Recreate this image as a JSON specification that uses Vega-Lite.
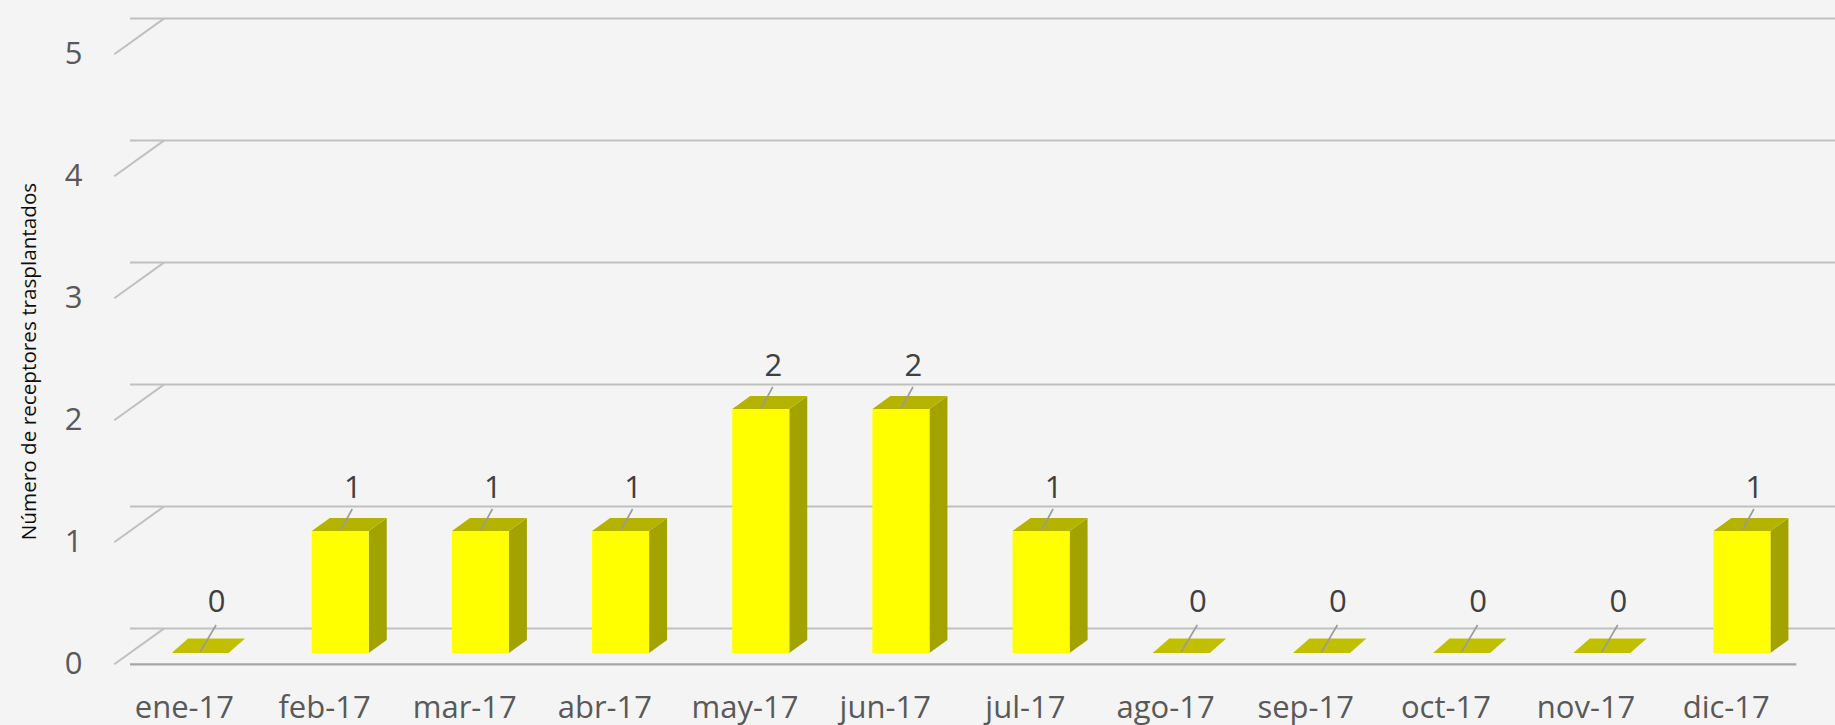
{
  "$schema": "https://vega.github.io/schema/vega-lite/v6.json",
  "autosize": "none",
  "width": 1682,
  "height": 610,
  "padding": {"left": 130, "top": 43, "right": 23, "bottom": 72},
  "background": "#f4f4f4",
  "config": {"view": {"stroke": null}, "font": "Open Sans",
             "axis": {"ticks": false, "tickSize": 0, "domain": false, "grid": false}},
  "datasets": {
    "bars": [
      {"mes": "ene-17", "v": 0},
      {"mes": "feb-17", "v": 1},
      {"mes": "mar-17", "v": 1},
      {"mes": "abr-17", "v": 1},
      {"mes": "may-17", "v": 2},
      {"mes": "jun-17", "v": 2},
      {"mes": "jul-17", "v": 1},
      {"mes": "ago-17", "v": 0},
      {"mes": "sep-17", "v": 0},
      {"mes": "oct-17", "v": 0},
      {"mes": "nov-17", "v": 0},
      {"mes": "dic-17", "v": 1}
    ],
    "ticks": [{"v": 0}, {"v": 1}, {"v": 2}, {"v": 3}, {"v": 4}, {"v": 5}]
  },
  "layer": [
    {
      "data": {"name": "bars"},
      "mark": {"type": "bar", "fill": "#ffff00", "opacity": 0},
      "encoding": {
        "x": {"field": "mes", "type": "nominal", "sort": null,
              "scale": {"domain": ["ene-17","feb-17","mar-17","abr-17","may-17","jun-17","jul-17","ago-17","sep-17","oct-17","nov-17","dic-17"],
                        "paddingInner": 0.593, "paddingOuter": 0.2965},
              "axis": {"title": null, "ticks": false, "tickSize": 0, "domain": false, "grid": false,
                       "labelAngle": 0, "labelFontSize": 31, "labelColor": "#595959", "labelFont": "Open Sans",
                       "labelOffset": -15.7, "labelPadding": 64, "labelBaseline": "alphabetic"}},
        "y": {"field": "v", "type": "quantitative",
              "scale": {"domain": [0, 5], "nice": false},
              "axis": {"title": "Número de receptores trasplantados", "values": [0, 1, 2, 3, 4, 5], "format": "d",
                       "ticks": false, "tickSize": 0, "domain": false, "grid": false,
                       "labelFontSize": 31, "labelColor": "#595959", "labelFont": "Open Sans",
                       "labelOffset": 11.3, "labelPadding": 48,
                       "titleFontSize": 20.7, "titleFont": "Open Sans", "titleColor": "#0d0d0d", "titleFontWeight": "normal",
                       "titleAngle": -90, "titleX": -95, "titleY": 318, "titleAlign": "center", "titleBaseline": "alphabetic"}}
      }
    },
    {
      "data": {"name": "ticks"},
      "mark": {"type": "rule", "stroke": "#c0c0c0", "strokeWidth": 2, "xOffset": 33.9, "yOffset": -24.4},
      "encoding": {"y": {"field": "v", "type": "quantitative"}}
    },
    {
      "data": {"name": "ticks"},
      "mark": {"type": "point", "shape": "M-85.8,11.3L-36.2,-24.4", "size": 4, "filled": false,
               "stroke": "#c0c0c0", "strokeWidth": 2, "opacity": 1},
      "encoding": {"x": {"datum": "ene-17", "type": "nominal"},
                   "y": {"field": "v", "type": "quantitative"}}
    },
    {
      "data": {"name": "ticks"},
      "transform": [{"filter": "datum.v == 0"}],
      "mark": {"type": "rule", "stroke": "#a6a6a6", "strokeWidth": 2.2, "xOffset": -15.7, "yOffset": 11.3},
      "encoding": {"y": {"field": "v", "type": "quantitative"}}
    },
    {
      "data": {"name": "bars"},
      "transform": [{"filter": "datum.v == 0"}],
      "mark": {"type": "point", "shape": "M-28.5,0L28.5,0L45,-14.4L-12,-14.4Z", "size": 4, "filled": true,
               "fill": "#c0c000", "strokeWidth": 0, "opacity": 1},
      "encoding": {"x": {"field": "mes", "type": "nominal", "sort": null},
                   "y": {"field": "v", "type": "quantitative"}}
    },
    {
      "data": {"name": "bars"},
      "transform": [{"filter": "datum.v > 0"}],
      "mark": {"type": "bar", "fill": "#a3a300", "width": 18, "xOffset": 37.5, "y2Offset": -13},
      "encoding": {"x": {"field": "mes", "type": "nominal", "sort": null},
                   "y": {"field": "v", "type": "quantitative"},
                   "y2": {"datum": 0}}
    },
    {
      "data": {"name": "bars"},
      "transform": [{"filter": "datum.v > 0"}],
      "mark": {"type": "point", "shape": "M28.5,-13L28.5,0L46.5,-13Z", "size": 4, "filled": true,
               "fill": "#a3a300", "strokeWidth": 0, "opacity": 1},
      "encoding": {"x": {"field": "mes", "type": "nominal", "sort": null},
                   "y": {"datum": 0, "type": "quantitative"}}
    },
    {
      "data": {"name": "bars"},
      "transform": [{"filter": "datum.v > 0"}],
      "mark": {"type": "point", "shape": "M28.5,0L46.5,-13L46.5,0Z", "size": 4, "filled": true,
               "fill": "#a3a300", "strokeWidth": 0, "opacity": 1},
      "encoding": {"x": {"field": "mes", "type": "nominal", "sort": null},
                   "y": {"field": "v", "type": "quantitative"}}
    },
    {
      "data": {"name": "bars"},
      "transform": [{"filter": "datum.v > 0"}],
      "mark": {"type": "bar", "fill": "#ffff00"},
      "encoding": {"x": {"field": "mes", "type": "nominal", "sort": null},
                   "y": {"field": "v", "type": "quantitative"}}
    },
    {
      "data": {"name": "bars"},
      "transform": [{"filter": "datum.v > 0"}],
      "mark": {"type": "point", "shape": "M-28.5,0L28.5,0L46.5,-13L-10.5,-13Z", "size": 4, "filled": true,
               "fill": "#b4b400", "strokeWidth": 0, "opacity": 1},
      "encoding": {"x": {"field": "mes", "type": "nominal", "sort": null},
                   "y": {"field": "v", "type": "quantitative"}}
    },
    {
      "data": {"name": "bars"},
      "transform": [{"filter": "datum.v > 0"}],
      "mark": {"type": "point", "shape": "M0.5,-1L12,-22", "size": 4, "filled": false,
               "stroke": "#9a9a9a", "strokeWidth": 1.6, "opacity": 1},
      "encoding": {"x": {"field": "mes", "type": "nominal", "sort": null},
                   "y": {"field": "v", "type": "quantitative"}}
    },
    {
      "data": {"name": "bars"},
      "transform": [{"filter": "datum.v == 0"}],
      "mark": {"type": "point", "shape": "M0,-1L16,-28", "size": 4, "filled": false,
               "stroke": "#9a9a9a", "strokeWidth": 1.6, "opacity": 1},
      "encoding": {"x": {"field": "mes", "type": "nominal", "sort": null},
                   "y": {"field": "v", "type": "quantitative"}}
    },
    {
      "data": {"name": "bars"},
      "transform": [{"filter": "datum.v > 0"}],
      "mark": {"type": "text", "fontSize": 31, "font": "Open Sans", "fill": "#404040",
               "dx": 12.5, "dy": -33, "baseline": "alphabetic", "align": "center"},
      "encoding": {"x": {"field": "mes", "type": "nominal", "sort": null},
                   "y": {"field": "v", "type": "quantitative"},
                   "text": {"field": "v", "type": "quantitative"}}
    },
    {
      "data": {"name": "bars"},
      "transform": [{"filter": "datum.v == 0"}],
      "mark": {"type": "text", "fontSize": 31, "font": "Open Sans", "fill": "#404040",
               "dx": 16.5, "dy": -41, "baseline": "alphabetic", "align": "center"},
      "encoding": {"x": {"field": "mes", "type": "nominal", "sort": null},
                   "y": {"field": "v", "type": "quantitative"},
                   "text": {"field": "v", "type": "quantitative"}}
    }
  ]
}
